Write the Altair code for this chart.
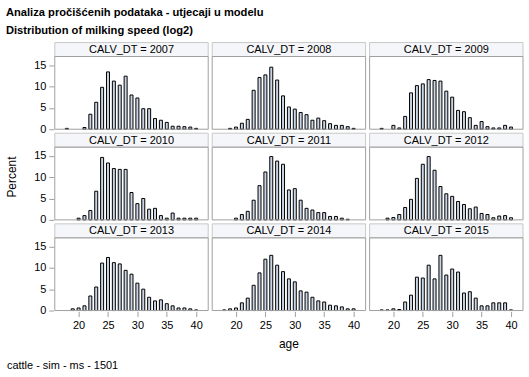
import altair as alt
import pandas as pd

FONT = "Liberation Sans"

title_lines = ["Analiza pročišćenih podataka - utjecaji u modelu",
               "Distribution of milking speed (log2)"]
footer_text = "cattle - sim - ms - 1501"
x_title = "age"
y_title = "Percent"

years = [2007, 2008, 2009, 2010, 2011, 2012, 2013, 2014, 2015]
ages = list(range(18, 41))
x_ticks = [20, 25, 30, 35, 40]
y_ticks = [0, 5, 10, 15]

# percent per age (18..40); 0 = no bar
pct_2007 = [0.2, 0, 0, 0.4, 3.5, 6.3, 9.8, 13.4, 11.25, 10.3, 12.4, 8.0, 7.3, 4.8, 4.8, 2.5, 2.1, 1.6, 0.7, 0.7, 0.6, 0.5, 0.2]
pct_2008 = [0, 0.2, 0.5, 1.4, 2.3, 9.1, 12.1, 12.7, 14.5, 11.5, 7.8, 5.2, 4.7, 3.9, 3.4, 2.1, 2.6, 2.0, 1.3, 0.9, 0.9, 0.6, 0.2]
pct_2009 = [0.2, 0, 0.9, 0.3, 3.0, 8.5, 10.2, 10.6, 11.6, 11.4, 11.25, 8.9, 7.5, 4.4, 4.1, 2.7, 0.9, 1.8, 0.6, 0.3, 0.3, 0.9, 0.5]
pct_2010 = [0, 0, 0.4, 1.0, 2.2, 6.7, 14.6, 13.3, 12.0, 11.8, 11.8, 6.4, 3.8, 5.0, 2.5, 2.7, 1.0, 0.4, 1.6, 0.4, 0.4, 0.4, 0.4]
pct_2011 = [0, 0, 0.4, 1.25, 2.0, 4.6, 8.0, 11.2, 14.8, 13.75, 13.0, 7.0, 7.3, 4.6, 2.7, 2.3, 1.7, 1.7, 0.8, 0.8, 0.4, 0.15, 0]
pct_2012 = [0, 0.4, 0.55, 1.25, 2.9, 4.8, 9.7, 13.0, 14.8, 11.6, 7.8, 6.1, 5.5, 4.3, 3.6, 2.6, 3.0, 1.5, 1.25, 0.5, 0.9, 1.0, 0.5]
pct_2013 = [0, 0.4, 0.6, 1.1, 3.4, 5.5, 11.1, 12.4, 11.2, 10.9, 9.4, 8.5, 6.4, 5.0, 3.1, 2.25, 2.5, 1.6, 1.1, 0.6, 0.6, 0.4, 0.15]
pct_2014 = [0.15, 0.4, 0.6, 1.8, 2.9, 5.9, 8.8, 12.0, 12.9, 10.6, 9.1, 7.4, 6.7, 4.6, 4.3, 3.1, 2.25, 2.0, 1.25, 1.1, 0.85, 0.4, 0.4]
pct_2015 = [0.15, 0.15, 0.4, 0.25, 2.0, 3.6, 7.8, 7.6, 10.6, 7.4, 12.9, 8.3, 9.7, 9.0, 4.1, 4.4, 2.9, 1.1, 1.1, 1.8, 1.8, 1.8, 0.15]

series = [pct_2007, pct_2008, pct_2009, pct_2010, pct_2011,
          pct_2012, pct_2013, pct_2014, pct_2015]

rows = []
for i, (yr, vals) in enumerate(zip(years, series)):
    for a, v in zip(ages, vals):
        if v > 0:
            rows.append({"year": yr, "age": a, "pct": v, "r": i // 3, "c": i % 3,
                         "label": f"CALV_DT = {yr}"})
df = pd.DataFrame(rows)

W, H, HDR = 154, 87, 14
YMAX = 17 * H / (H - HDR)

base = alt.Chart()

hdr = base.transform_aggregate(n="count()", groupby=["label"]).mark_rect(
    fill="#F5F6FA", stroke="#C8C8C8", strokeWidth=1
).encode(x=alt.value(0), x2=alt.value(W), y=alt.value(0), y2=alt.value(HDR))

hdr_txt = base.transform_aggregate(n="count()", groupby=["label"]).mark_text(
    font=FONT, fontSize=11, color="#000000", baseline="middle", align="center"
).encode(text="label:N", x=alt.value(W / 2), y=alt.value(HDR / 2 + 0.5))

border = base.transform_aggregate(n="count()", groupby=["label"]).mark_rect(
    filled=False, stroke="#A0A0A0", strokeWidth=1
).encode(x=alt.value(0), x2=alt.value(W), y=alt.value(HDR), y2=alt.value(H))

bars = base.mark_bar(size=3, fill="#CAD5E5", stroke="#000000", strokeWidth=1).encode(
    x=alt.X("age:Q",
            scale=alt.Scale(domain=[16.8, 41.2], nice=False, zero=False),
            axis=alt.Axis(values=x_ticks, title=None)),
    y=alt.Y("pct:Q",
            scale=alt.Scale(domain=[0, YMAX], nice=False),
            axis=alt.Axis(values=y_ticks, title=None)),
)

panel = alt.layer(hdr, bars, border, hdr_txt).properties(width=W, height=H)

grid = panel.facet(
    data=df,
    row=alt.Row("r:O", header=alt.Header(labels=False, title=y_title, titleOrient="left",
                                          titleFont=FONT, titleFontSize=12,
                                          titleFontWeight="normal", titleColor="#000000",
                                          titlePadding=4)),
    column=alt.Column("c:O", header=alt.Header(labels=False, title=x_title, titleOrient="bottom",
                                                titleFont=FONT, titleFontSize=12,
                                                titleFontWeight="normal", titleColor="#000000",
                                                titlePadding=-1)),
    spacing=2,
)

footer = alt.Chart(pd.DataFrame({"t": [footer_text]})).mark_text(
    font=FONT, fontSize=11, align="left", baseline="middle", color="#000000"
).encode(text="t:N", x=alt.value(-48), y=alt.value(8)).properties(width=10, height=16)

chart = alt.vconcat(grid, footer, spacing=8).properties(
    title=alt.TitleParams(text=title_lines, anchor="start", frame="bounds", font=FONT,
                          fontSize=11.2, fontWeight="bold", color="#000000",
                          lineHeight=17.5, offset=6),
    padding={"left": 6, "top": 6, "right": 5, "bottom": 4},
).configure_view(stroke=None).configure_axis(
    domain=False, grid=False, tickColor="#A0A0A0", tickSize=5,
    labelFont=FONT, labelFontSize=11, labelColor="#000000", labelPadding=3,
)

chart.save("out.html", embed_options={"renderer": "svg", "actions": False})
